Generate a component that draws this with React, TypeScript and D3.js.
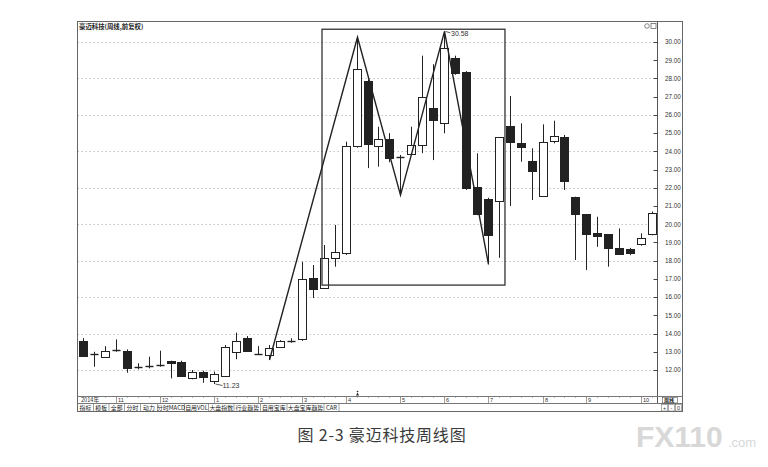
import * as d3 from 'd3';

// weekly candles
const opens = [13.61, 12.88, 12.73, 13.1, 13.06, 12.1, 12.22, 12.27, 12.51, 12.42, 11.58, 11.87, 11.39, 11.67, 12.97, 13.74, 12.88, 12.82, 13.28, 13.61,
  13.7, 17.05, 16.48, 18.16, 18.44, 24.29, 27.86, 24.29, 24.66, 23.7, 23.84, 24.35, 26.36, 25.54, 29.1, 28.37, 22.06, 21.38, 21.27, 25.39,
  24.44, 23.47, 21.55, 24.58, 24.77, 21.51, 20.54, 19.5, 19.45, 18.71, 18.62, 18.91, 19.46];
const highs = [13.75, 13.0, 13.31, 13.68, 13.13, 12.37, 12.73, 13.06, 12.51, 12.51, 12.0, 11.96, 11.91, 13.37, 14.05, 13.86, 13.31, 13.37, 13.64, 13.74,
  17.94, 17.76, 18.86, 19.96, 24.53, 30.26, 27.95, 25.35, 25.0, 23.8, 25.35, 29.25, 28.78, 30.58, 29.25, 28.4, 23.89, 21.45, 24.77, 27.04,
  25.54, 24.17, 25.48, 25.68, 24.9, 21.51, 20.54, 20.41, 19.45, 19.77, 18.7, 19.5, 20.7];
const lows = [12.71, 12.18, 12.7, 13.0, 11.85, 12.04, 12.09, 12.18, 11.54, 11.63, 11.49, 11.3, 11.23, 11.63, 12.59, 13.0, 12.82, 12.55, 13.24, 13.5,
  13.6, 15.95, 16.45, 17.67, 18.31, 24.2, 23.08, 23.16, 23.4, 21.6, 23.8, 23.9, 23.52, 24.99, 28.2, 21.88, 20.5, 17.8, 18.16, 21.0,
  23.43, 21.33, 21.55, 24.44, 21.88, 18.04, 17.49, 18.76, 17.67, 18.36, 18.3, 18.82, 19.39];
const closes = [12.78, 12.86, 13.06, 13.1, 12.09, 12.15, 12.22, 12.27, 12.37, 11.69, 11.91, 11.6, 11.78, 13.28, 13.61, 13.06, 12.88, 13.19, 13.59, 13.61,
  17.0, 16.44, 18.16, 18.49, 24.29, 28.5, 24.4, 24.68, 23.62, 23.7, 24.35, 27.0, 25.72, 29.65, 28.28, 21.97, 20.56, 19.41, 24.77, 24.5,
  24.25, 22.92, 24.5, 24.86, 22.39, 20.56, 19.45, 19.37, 18.68, 18.36, 18.44, 19.26, 20.6];

const priceTicks = [12, 13, 14, 15, 16, 17, 18, 19, 20, 21, 22, 23, 24, 25, 26, 27, 28, 29, 30];
const gridLevels = [12, 14, 16, 18, 20, 22, 24, 26, 28, 30];
const monthIdx = [3, 7, 12, 16, 20, 24, 29, 33, 37, 42, 46, 51];
const monthLabels = ['11', '12', '1', '2', '3', '4', '5', '6', '7', '8', '9', '10'];

// double top zigzag drawn by the author
const zigIdx = [17, 25, 29, 33, 37];
const zigKind = ['low', 'high', 'low', 'high', 'low'];
const boxIdx = [22, 38];
const boxPrice = [16.66, 30.7];

const tabs = ['指标', '模板', '全部', '分时', '动力', '分时MACD', '自用VOL', '大盘指数', '行业趋势', '自用宝库', '大盘宝库趋势', 'CAR'];
const tabWidths = [16, 15.5, 15.5, 16, 17, 27, 24, 25.5, 26.5, 26.5, 37, 15];

const CN = '"Noto Sans CJK SC", "Noto Sans", sans-serif';
const NUM = '"Liberation Sans", Arial, sans-serif';
const INK = '#222';

export default function App() {
  const left = 77.5;
  const plotRight = 657.5;
  const right = 682.5;
  const top = 21.5;
  const dateTop = 396.5;
  const tabTop = 403.5;
  const bottom = 411.5;

  const idx = d3.range(opens.length);
  const x = d3.scaleBand<number>().domain(idx).range([left, plotRight]).padding(0);
  const step = x.step();
  const cx = (i: number) => Math.round((x(i) ?? 0) + step / 2) + 0.5;
  const y = d3.scaleLinear().domain([12, 30]).range([370, 42]);
  const bw = 8;

  const zigLine = d3
    .line<number>()
    .x((i) => cx(zigIdx[i]))
    .y((i) => y(zigKind[i] === 'low' ? lows[zigIdx[i]] : highs[zigIdx[i]]));

  const lowI = 12;
  const highI = 33;

  let tabX = left;
  const tabPos = tabWidths.map((w) => {
    const s = tabX;
    tabX += w;
    return s;
  });

  return (
    <svg width={768} height={467} style={{ position: 'absolute', left: 0, top: 0, background: '#fff' }}>
      <rect x={0} y={0} width={768} height={467} fill="#fff" />

      {/* grid */}
      {gridLevels.map((v) => (
        <line key={v} x1={left} x2={plotRight} y1={Math.round(y(v)) + 0.5} y2={Math.round(y(v)) + 0.5}
          stroke="#b4b4b4" strokeWidth={0.8} strokeDasharray="1.5,2.5" />
      ))}

      {/* frame */}
      <rect x={left} y={top} width={right - left} height={bottom - top} fill="none" stroke="#666" strokeWidth={1} />
      <line x1={plotRight} x2={plotRight} y1={top} y2={tabTop} stroke="#555" />
      <line x1={left} x2={right} y1={dateTop} y2={dateTop} stroke="#777" />
      <line x1={left} x2={right} y1={tabTop} y2={tabTop} stroke="#777" />

      <text x={79} y={29} fontFamily={CN} fontSize={6.4} fontWeight="bold" fill={INK}>豪迈科技(周线,前复权)</text>
      <circle cx={647} cy={26} r={2.3} fill="none" stroke="#555" strokeWidth={0.7} />
      <rect x={651} y={23.5} width={5} height={5} fill="none" stroke="#555" strokeWidth={0.7} />

      {/* price axis */}
      {priceTicks.map((v) => (
        <g key={v}>
          <line x1={plotRight - 4} x2={plotRight} y1={Math.round(y(v)) + 0.5} y2={Math.round(y(v)) + 0.5} stroke="#444" />
          <text x={665} y={y(v) + 2.3} fontFamily={NUM} fontSize={6.3} fill="#333">{v.toFixed(2)}</text>
        </g>
      ))}

      {/* candles */}
      {idx.map((i) => {
        const o = opens[i];
        const c = closes[i];
        const xc = cx(i);
        const yt = Math.round(y(Math.max(o, c))) + 0.5;
        const yb = Math.round(y(Math.min(o, c))) + 0.5;
        const yh = y(highs[i]);
        const yl = y(lows[i]);
        if (yb - yt < 1.2) {
          return (
            <g key={i}>
              <line x1={xc} x2={xc} y1={yh} y2={yl} stroke={INK} strokeWidth={1} />
              <line x1={xc - bw / 2} x2={xc + bw / 2} y1={yt} y2={yt} stroke={INK} strokeWidth={1.4} />
            </g>
          );
        }
        if (c >= o) {
          return (
            <g key={i}>
              <line x1={xc} x2={xc} y1={yh} y2={yt} stroke={INK} strokeWidth={1} />
              <line x1={xc} x2={xc} y1={yb} y2={yl} stroke={INK} strokeWidth={1} />
              <rect x={xc - bw / 2} y={yt} width={bw} height={yb - yt} fill="#fff" stroke={INK} strokeWidth={1} />
            </g>
          );
        }
        return (
          <g key={i}>
            <line x1={xc} x2={xc} y1={yh} y2={yl} stroke={INK} strokeWidth={1} />
            <rect x={xc - bw / 2} y={yt} width={bw} height={yb - yt} fill={INK} stroke={INK} strokeWidth={1} />
          </g>
        );
      })}

      {/* annotations */}
      <rect x={cx(boxIdx[0]) - 2.5} y={y(boxPrice[1])} width={cx(boxIdx[1]) + step / 2 - cx(boxIdx[0]) + 2.5}
        height={y(boxPrice[0]) - y(boxPrice[1])} fill="none" stroke="#333" strokeWidth={1.3} />
      <path d={zigLine(d3.range(zigIdx.length)) ?? ''} fill="none" stroke="#222" strokeWidth={1.4} />

      <line x1={cx(lowI) + 1} x2={cx(lowI) + 8} y1={y(lows[lowI])} y2={y(lows[lowI]) + 1.5} stroke="#333" strokeWidth={0.8} />
      <text x={cx(lowI) + 8} y={y(lows[lowI]) + 4} fontFamily={NUM} fontSize={7} fill="#333">11.23</text>
      <line x1={cx(highI) + 1} x2={cx(highI) + 6} y1={y(highs[highI])} y2={y(highs[highI]) + 1.5} stroke="#333" strokeWidth={0.8} />
      <text x={cx(highI) + 6.5} y={y(highs[highI]) + 4.3} fontFamily={NUM} fontSize={7} fill="#333">30.58</text>

      {/* date row */}
      {idx.map((i) => (
        <line key={i} x1={cx(i)} x2={cx(i)} y1={dateTop} y2={dateTop + 1.5} stroke="#888" strokeWidth={0.6} />
      ))}
      <text x={81} y={dateTop + 5.3} fontFamily={CN} fontSize={5.6} fill="#333">2014年</text>
      {monthIdx.map((m, k) => (
        <g key={m}>
          <line x1={cx(m)} x2={cx(m)} y1={dateTop} y2={tabTop} stroke="#777" strokeWidth={0.7} />
          <text x={cx(m) + 1.5} y={dateTop + 5.3} fontFamily={NUM} fontSize={5.6} fill="#333">{monthLabels[k]}</text>
        </g>
      ))}
      <path d={`M${cx(25) - 1.5},${dateTop - 1} l1.5,-3 l1.5,3 z`} fill="#222" />
      <circle cx={cx(25)} cy={dateTop - 5} r={0.8} fill="#222" />
      <rect x={662.5} y={dateTop + 1} width={15} height={5.5} fill="none" stroke="#555" strokeWidth={0.6} />
      <text x={664} y={dateTop + 5.5} fontFamily={CN} fontSize={5} fontWeight="bold" fill="#222">周线</text>

      {/* tab row */}
      {tabs.map((t, k) => (
        <g key={t}>
          <line x1={tabPos[k] + tabWidths[k]} x2={tabPos[k] + tabWidths[k]} y1={tabTop} y2={bottom} stroke="#777" strokeWidth={0.7} />
          <text x={tabPos[k] + tabWidths[k] / 2} y={tabTop + 6} textAnchor="middle" fontFamily={CN} fontSize={5.9} fill="#222">{t}</text>
        </g>
      ))}
      {['+', '-', '0'].map((s, k) => (
        <g key={s}>
          <rect x={661.5 + k * 7} y={tabTop + 1} width={6} height={6.5} fill="none" stroke="#777" strokeWidth={0.6} />
          <text x={664.5 + k * 7} y={tabTop + 6.3} textAnchor="middle" fontFamily={NUM} fontSize={5.5} fill="#333">{s}</text>
        </g>
      ))}

      {/* caption */}
      <text x={382} y={441} textAnchor="middle" fontFamily={CN} fontSize={16} letterSpacing={0.8} fill="#3a3a3a">图 2-3 豪迈科技周线图</text>
      <text x={636} y={447} fontFamily={NUM} fontSize={30} fontWeight="bold" fill="#d8d8d8">FX110</text>
      <text x={728} y={447} fontFamily={NUM} fontSize={13} fill="#d8d8d8">.com</text>
    </svg>
  );
}
